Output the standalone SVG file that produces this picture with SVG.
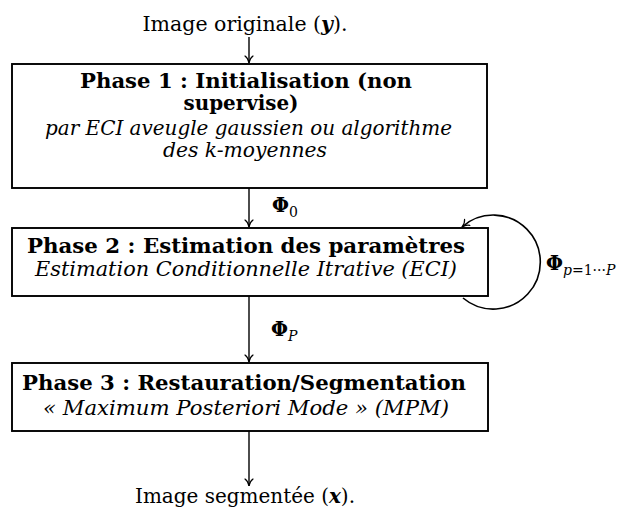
<svg xmlns="http://www.w3.org/2000/svg" width="630" height="509" viewBox="0 0 630 509">
<style>
text{font-family:"DejaVu Serif","Liberation Serif",serif;font-size:19.5px;fill:#000}
.b{font-weight:bold}
.i{font-style:italic}
.box{fill:#fff;stroke:#000;stroke-width:1.9}
.con{fill:none;stroke:#000;stroke-width:1.4}
.loop{fill:none;stroke:#000;stroke-width:1.6}
.sub{font-size:14px}
</style>
<defs>
<marker id="ah" markerUnits="userSpaceOnUse" viewBox="-8 -5 9 10" refX="0" refY="0" markerWidth="9" markerHeight="10" orient="auto">
<path d="M-7,-4 C-5.5,-1.8 -2.2,-0.4 0,0 C-2.2,0.4 -5.5,1.8 -7,4" fill="none" stroke="#000" stroke-width="1.2" stroke-linecap="round"/>
</marker>
</defs>
<g id="connectors">
<line class="con" x1="249" y1="37" x2="249" y2="63" marker-end="url(#ah)"/>
<line class="con" x1="249" y1="188" x2="249" y2="227" marker-end="url(#ah)"/>
<line class="con" x1="249" y1="296" x2="249" y2="362" marker-end="url(#ah)"/>
<line class="con" x1="249" y1="431" x2="249" y2="486" marker-end="url(#ah)"/>
<path class="loop" d="M463,298 A47,47 0 1 0 462,227" marker-end="url(#ah)"/>
<text x="272" y="212"><tspan class="b">Φ</tspan><tspan class="sub" dy="5">0</tspan></text>
<text x="271" y="336"><tspan class="b">Φ</tspan><tspan class="sub i" dy="5">P</tspan></text>
<text x="546" y="270"><tspan class="b">Φ</tspan><tspan class="sub" dy="5"><tspan class="i">p</tspan>=1···<tspan class="i">P</tspan></tspan></text>
</g>
<g id="input">
<text x="245" y="31" text-anchor="middle" textLength="205" lengthAdjust="spacingAndGlyphs">Image originale (<tspan class="b i">y</tspan>).</text>
</g>
<g id="phase1">
<rect class="box" x="12" y="64" width="475" height="124"/>
<text class="b" x="246" y="88" text-anchor="middle" textLength="332" lengthAdjust="spacingAndGlyphs">Phase 1 : Initialisation (non</text>
<text class="b" x="241" y="110" text-anchor="middle" textLength="115" lengthAdjust="spacingAndGlyphs">supervise)</text>
<text class="i" x="248.5" y="135" text-anchor="middle" textLength="407" lengthAdjust="spacingAndGlyphs">par ECI aveugle gaussien ou algorithme</text>
<text class="i" x="245" y="157" text-anchor="middle" textLength="164" lengthAdjust="spacingAndGlyphs">des k-moyennes</text>
</g>
<g id="phase2">
<rect class="box" x="12" y="228" width="476" height="68"/>
<text class="b" x="246" y="253" text-anchor="middle" textLength="438" lengthAdjust="spacingAndGlyphs">Phase 2 : Estimation des paramètres</text>
<text class="i" x="246" y="276" text-anchor="middle" textLength="422" lengthAdjust="spacingAndGlyphs">Estimation Conditionnelle Itrative (ECI)</text>
</g>
<g id="phase3">
<rect class="box" x="12" y="363" width="476" height="68"/>
<text class="b" x="244" y="390" text-anchor="middle" textLength="444" lengthAdjust="spacingAndGlyphs">Phase 3 : Restauration/Segmentation</text>
<text class="i" x="246" y="415" text-anchor="middle" textLength="406" lengthAdjust="spacingAndGlyphs">« Maximum Posteriori Mode » (MPM)</text>
</g>
<g id="output">
<text x="245" y="503" text-anchor="middle" textLength="220" lengthAdjust="spacingAndGlyphs">Image segmentée (<tspan class="b i">x</tspan>).</text>
</g>
</svg>
